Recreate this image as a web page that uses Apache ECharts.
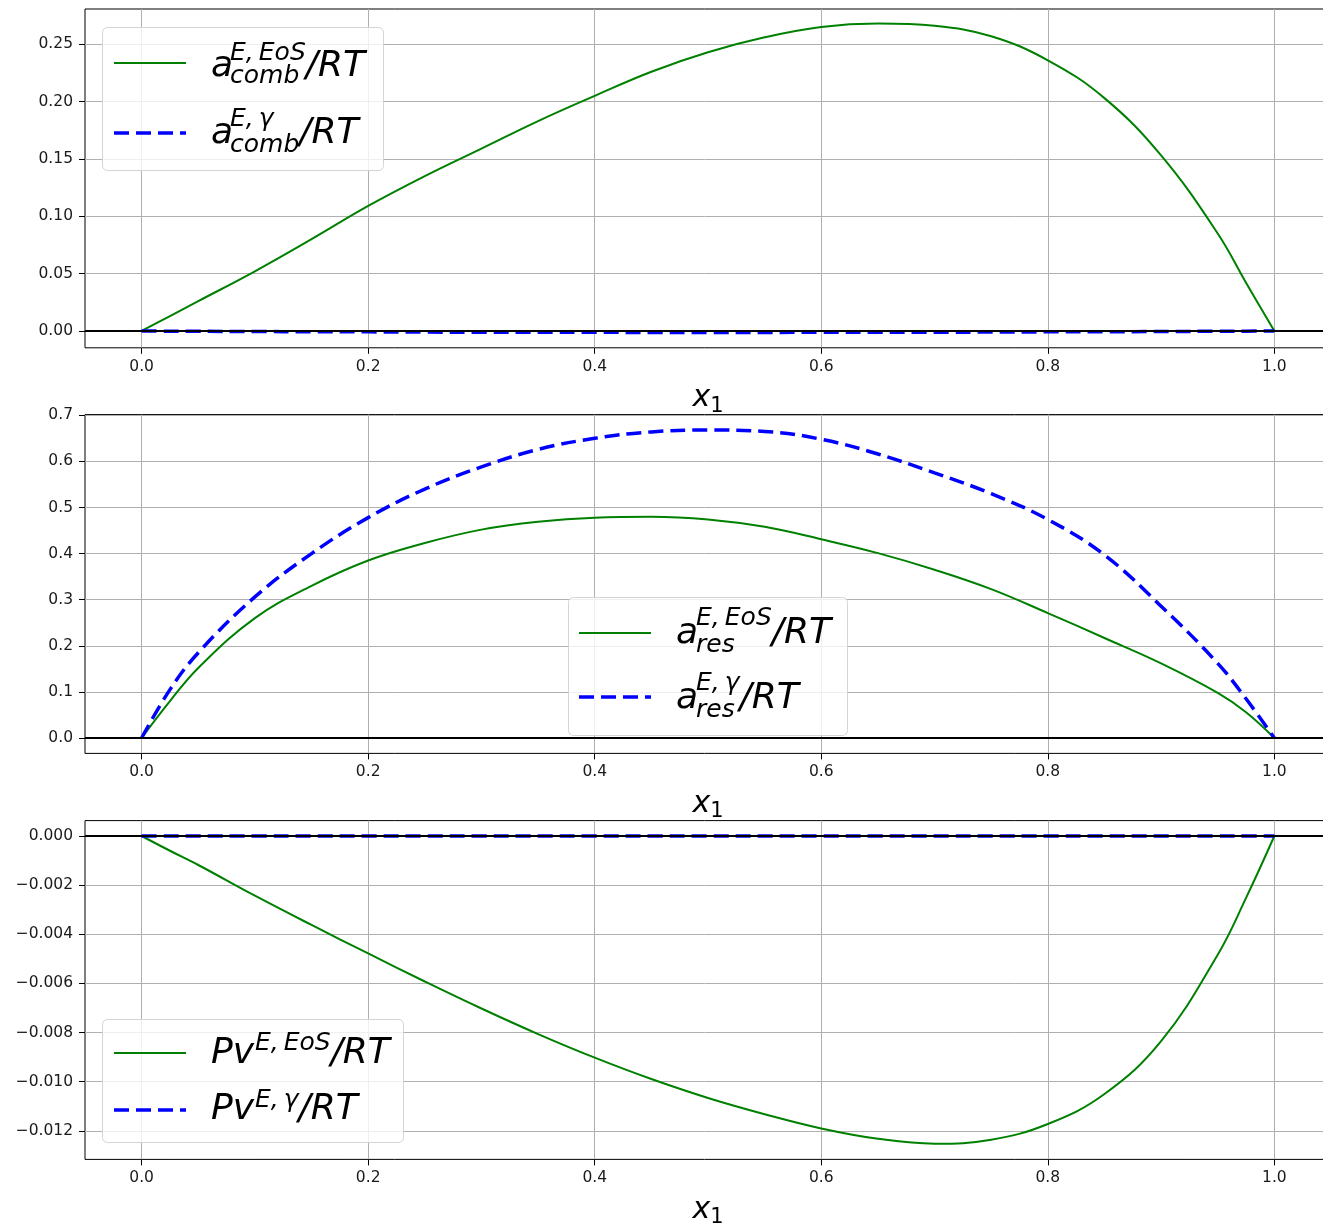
<!DOCTYPE html>
<html>
<head>
<meta charset="utf-8">
<script src="https://cdn.jsdelivr.net/npm/echarts@6/dist/echarts.min.js"></script>
<style>
  html, body { margin: 0; padding: 0; background: #fff; }
  #chart { width: 1323px; height: 1231px; }
</style>
</head>
<body>
<div id="chart"></div>
<script>
// Mole fraction of component 1 (shared sampling for every curve)
const x1 = [0, 0.025, 0.05, 0.1, 0.15, 0.2, 0.25, 0.3, 0.35, 0.4, 0.45, 0.5,
            0.55, 0.6, 0.65, 0.7, 0.75, 0.8, 0.85, 0.9, 0.95, 0.975, 1.0];

// Combinatorial excess Helmholtz energy
const aCombEoS   = [0, 0.013, 0.026, 0.052, 0.080, 0.109, 0.135, 0.159, 0.183, 0.205, 0.226, 0.243,
                    0.256, 0.265, 0.268, 0.266, 0.257, 0.236, 0.203, 0.153, 0.085, 0.042, 0];
const aCombGamma = [0, -0.0002, -0.0003, -0.0005, -0.0007, -0.0008, -0.0010, -0.0011, -0.0012, -0.0012, -0.0013, -0.0013,
                    -0.0013, -0.0012, -0.0012, -0.0011, -0.0010, -0.0008, -0.0007, -0.0005, -0.0003, -0.0002, 0];

// Residual excess Helmholtz energy
const aResEoS    = [0, 0.080, 0.152, 0.260, 0.330, 0.385, 0.423, 0.452, 0.469, 0.478, 0.480, 0.474,
                    0.458, 0.431, 0.401, 0.365, 0.323, 0.271, 0.217, 0.162, 0.098, 0.056, 0];
const aResGamma  = [0, 0.105, 0.185, 0.306, 0.400, 0.478, 0.540, 0.588, 0.626, 0.650, 0.664, 0.668,
                    0.665, 0.648, 0.616, 0.575, 0.530, 0.474, 0.397, 0.286, 0.162, 0.085, 0];

// Excess P·v term
const PvEoS      = [0, -0.0006, -0.00118, -0.00243, -0.00362, -0.00478, -0.00592, -0.00702, -0.00806, -0.00902, -0.00989, -0.01066,
                    -0.01132, -0.01190, -0.01232, -0.01252, -0.01236, -0.01172, -0.01050, -0.00835, -0.00483, -0.00252, 0];
const PvGamma    = [0, 0, 0, 0, 0, 0, 0, 0, 0, 0, 0, 0,
                    0, 0, 0, 0, 0, 0, 0, 0, 0, 0, 0];

// Tick positions
const xTicks     = [0, 0.2, 0.4, 0.6, 0.8, 1.0];
const yTicksComb = [0, 0.05, 0.10, 0.15, 0.20, 0.25];
const yTicksRes  = [0, 0.1, 0.2, 0.3, 0.4, 0.5, 0.6, 0.7];
const yTicksPv   = [-0.012, -0.010, -0.008, -0.006, -0.004, -0.002, 0];

const GREEN = '#008000';
const BLUE = '#0000ff';
const FAMILY = '"DejaVu Sans", sans-serif';
const DASH = [15, 7];

const panels = [
  { top: 9,     yMin: -0.0147,  yMax: 0.2807,   yTicks: yTicksComb, digits: 2, eos: aCombEoS, gamma: aCombGamma },
  { top: 414.6, yMin: -0.0334,  yMax: 0.7015,   yTicks: yTicksRes,  digits: 1, eos: aResEoS,  gamma: aResGamma },
  { top: 820.6, yMin: -0.01316, yMax: 0.000627, yTicks: yTicksPv,   digits: 3, eos: PvEoS,    gamma: PvGamma }
];
const PANEL_H = 338.8;

// Legend boxes with math-style labels (base symbol, superscript, subscript, tail)
const legends = [
  { box: [102, 27, 281, 143], handle: [114, 186], entries: [
    { y: 63,  color: GREEN, dashed: false, x: 211, base: 76,  main: 'a',  sup: 'E,\u2009EoS', sub: 'comb', tail: '/RT', up: 16, down: 7,  kern: -3 },
    { y: 133, color: BLUE,  dashed: true,  x: 211, base: 143, main: 'a',  sup: 'E,\u2009γ',   sub: 'comb', tail: '/RT', up: 17, down: 9,  kern: -3 } ] },
  { box: [568, 597, 279, 138], handle: [579, 651], entries: [
    { y: 633, color: GREEN, dashed: false, x: 676, base: 643, main: 'a',  sup: 'E,\u2009EoS', sub: 'res',  tail: '/RT', up: 18, down: 9,  kern: -2 },
    { y: 697, color: BLUE,  dashed: true,  x: 676, base: 708, main: 'a',  sup: 'E,\u2009γ',   sub: 'res',  tail: '/RT', up: 18, down: 9,  kern: -2 } ] },
  { box: [102, 1019, 301, 123], handle: [114, 186], entries: [
    { y: 1053, color: GREEN, dashed: false, x: 211, base: 1063, main: 'Pv', sup: 'E,\u2009EoS', sub: '', tail: '/RT', up: 13, down: 0, kern: 1 },
    { y: 1110, color: BLUE,  dashed: true,  x: 211, base: 1119, main: 'Pv', sup: 'E,\u2009γ',   sub: '', tail: '/RT', up: 12, down: 0, kern: 1 } ] }
];

const BIG = 36, SMALL = 25;

const measureCtx = document.createElement('canvas').getContext('2d');
function fontStr(size) { return 'italic ' + size + 'px "DejaVu Sans"'; }
function textW(s, size) {
  measureCtx.font = fontStr(size);
  measureCtx.textBaseline = 'alphabetic';
  return measureCtx.measureText(s).width;
}
// distance from the 'middle' line down to the alphabetic baseline
function midToBase(size) {
  measureCtx.font = fontStr(size);
  measureCtx.textBaseline = 'middle';
  const d = measureCtx.measureText('x').actualBoundingBoxDescent;
  measureCtx.textBaseline = 'alphabetic';
  return isFinite(d) ? d : size * 0.3;
}
function textEl(str, x, base, size) {
  return {
    type: 'text', x: x, y: base - midToBase(size), z: 101, silent: true,
    style: { text: str, font: fontStr(size), fill: '#000',
             align: 'left', verticalAlign: 'middle', textAlign: 'left', textVerticalAlign: 'middle' }
  };
}

function legendElements(lg) {
  const els = [];
  const [bx, by, bw, bh] = lg.box;
  els.push({
    type: 'rect', z: 100, silent: true,
    shape: { x: bx + 0.5, y: by + 0.5, width: bw, height: bh, r: 5 },
    style: { fill: 'rgba(255,255,255,0.8)', stroke: '#d4d4d4', lineWidth: 1 }
  });
  lg.entries.forEach(function (e) {
    els.push({
      type: 'line', z: 101, silent: true,
      shape: { x1: lg.handle[0], y1: e.y, x2: lg.handle[1], y2: e.y },
      style: { stroke: e.color, lineWidth: e.dashed ? 3.5 : 2, lineDash: e.dashed ? DASH : null, lineCap: 'butt' }
    });
    els.push(textEl(e.main, e.x, e.base, BIG));
    const sx = e.x + textW(e.main, BIG) + e.kern;
    els.push(textEl(e.sup, sx, e.base - e.up, SMALL));
    let w = textW(e.sup, SMALL);
    if (e.sub) {
      els.push(textEl(e.sub, sx, e.base + e.down, SMALL));
      w = Math.max(w, textW(e.sub, SMALL));
    }
    els.push(textEl(e.tail, sx + w, e.base, BIG));
  });
  return els;
}

function fmt(v, digits) {
  return v.toFixed(digits).replace('-', '\u2212');
}

const grids = [], xAxes = [], yAxes = [], series = [];
panels.forEach(function (p, i) {
  grids.push({
    left: 85, top: p.top, width: 1246, height: PANEL_H,
    show: true, borderWidth: 1, borderColor: '#000', backgroundColor: 'transparent',
    containLabel: false, outerBoundsMode: 'none'
  });
  xAxes.push({
    type: 'value', gridIndex: i, min: -0.05, max: 1.05,
    axisLine: { show: false, onZero: false },
    axisTick: { show: true, length: 6, lineStyle: { color: '#000', width: 1 }, customValues: xTicks },
    axisLabel: { customValues: xTicks, formatter: function (v) { return fmt(v, 1); },
                 fontSize: 15.5, color: '#1a1a1a', fontFamily: FAMILY, margin: 11 },
    splitLine: { show: true, lineStyle: { color: '#b0b0b0', width: 1 } },
    name: '{i|x}{s|1}', nameLocation: 'middle', nameGap: 32,
    nameTextStyle: {
      rich: {
        i: { fontSize: 30, fontStyle: 'italic', fontFamily: FAMILY, color: '#000' },
        s: { fontSize: 21, fontFamily: FAMILY, color: '#000', padding: [16, 0, 0, 0] }
      }
    }
  });
  yAxes.push({
    type: 'value', gridIndex: i, min: p.yMin, max: p.yMax,
    axisLine: { show: false, onZero: false },
    axisTick: { show: true, length: 6, lineStyle: { color: '#000', width: 1 }, customValues: p.yTicks },
    axisLabel: { customValues: p.yTicks, formatter: (function (d) { return function (v) { return fmt(v, d); }; })(p.digits),
                 fontSize: 15.5, color: '#1a1a1a', fontFamily: FAMILY, margin: 12 },
    splitLine: { show: true, lineStyle: { color: '#b0b0b0', width: 1 } }
  });
  series.push({
    type: 'line', xAxisIndex: i, yAxisIndex: i, z: 3,
    data: x1.map(function (x, k) { return [x, p.eos[k]]; }),
    showSymbol: false, symbol: 'none', smooth: 0.4,
    lineStyle: { color: GREEN, width: 2 },
    markLine: {
      silent: true, symbol: ['none', 'none'], label: { show: false },
      lineStyle: { color: '#000', width: 2, type: 'solid' },
      emphasis: { disabled: true },
      data: [{ yAxis: 0 }], animation: false
    }
  });
  series.push({
    type: 'line', xAxisIndex: i, yAxisIndex: i, z: 4,
    data: x1.map(function (x, k) { return [x, p.gamma[k]]; }),
    showSymbol: false, symbol: 'none', smooth: 0.4,
    lineStyle: { color: BLUE, width: 3.5, type: DASH, cap: 'butt' }
  });
});

let graphicEls = [];
legends.forEach(function (lg) { graphicEls = graphicEls.concat(legendElements(lg)); });

const chart = echarts.init(document.getElementById('chart'), null, { renderer: 'canvas' });
chart.setOption({
  animation: false,
  backgroundColor: '#fff',
  grid: grids,
  xAxis: xAxes,
  yAxis: yAxes,
  series: series,
  graphic: { elements: graphicEls }
});
</script>
</body>
</html>
